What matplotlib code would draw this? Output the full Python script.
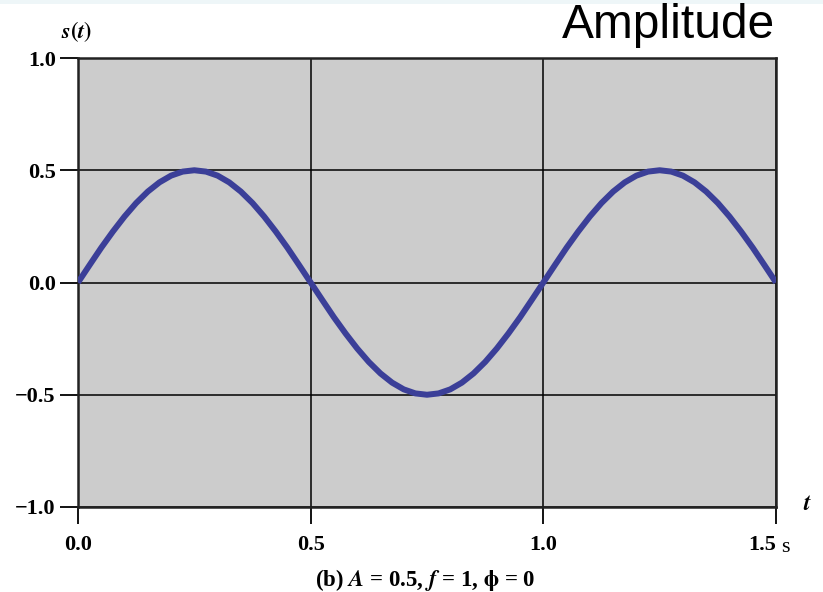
import matplotlib.pyplot as plt
from matplotlib.patches import Rectangle

# time samples (s) and signal values s(t)
t_values = [0.000, 0.025, 0.050, 0.075, 0.100, 0.125, 0.150, 0.175, 0.200, 0.225,
            0.250, 0.275, 0.300, 0.325, 0.350, 0.375, 0.400, 0.425, 0.450, 0.475,
            0.500, 0.525, 0.550, 0.575, 0.600, 0.625, 0.650, 0.675, 0.700, 0.725,
            0.750, 0.775, 0.800, 0.825, 0.850, 0.875, 0.900, 0.925, 0.950, 0.975,
            1.000, 1.025, 1.050, 1.075, 1.100, 1.125, 1.150, 1.175, 1.200, 1.225,
            1.250, 1.275, 1.300, 1.325, 1.350, 1.375, 1.400, 1.425, 1.450, 1.475,
            1.500]
s_values = [0.000, 0.078, 0.155, 0.227, 0.294, 0.354, 0.405, 0.446, 0.476, 0.494,
            0.500, 0.494, 0.476, 0.446, 0.405, 0.354, 0.294, 0.227, 0.155, 0.078,
            0.000, -0.078, -0.155, -0.227, -0.294, -0.354, -0.405, -0.446, -0.476, -0.494,
            -0.500, -0.494, -0.476, -0.446, -0.405, -0.354, -0.294, -0.227, -0.155, -0.078,
            0.000, 0.078, 0.155, 0.227, 0.294, 0.354, 0.405, 0.446, 0.476, 0.494,
            0.500, 0.494, 0.476, 0.446, 0.405, 0.354, 0.294, 0.227, 0.155, 0.078,
            0.000]
x_ticks = [0.0, 0.5, 1.0, 1.5]
x_tick_labels = ["0.0", "0.5", "1.0", "1.5"]
y_ticks = [-1.0, -0.5, 0.0, 0.5, 1.0]
y_tick_labels = ["\u22121.0", "\u22120.5", "0.0", "0.5", "1.0"]

serif = "Liberation Serif"

fig = plt.figure(figsize=(8.23, 5.92), dpi=100)
fig.patches.append(Rectangle((0, 0.994), 1, 0.006, transform=fig.transFigure,
                             facecolor="#eef6f8", edgecolor="none"))
ax = fig.add_axes([78 / 823, 1 - 507 / 592, (776 - 78) / 823, (507 - 58) / 592])
ax.set_facecolor("#cccccc")

ax.plot(t_values, s_values, color="#3b3f98", linewidth=4.3,
        solid_capstyle="butt", zorder=3)

ax.set_xlim(0, 1.5)
ax.set_ylim(-1.0, 1.0)
ax.set_xticks(x_ticks)
ax.set_xticklabels(x_tick_labels)
ax.set_yticks(y_ticks)
ax.set_yticklabels(y_tick_labels)
ax.grid(True, color="black", linewidth=1.1, zorder=1)
ax.set_axisbelow(True)
ax.tick_params(axis="x", direction="out", length=12, width=1.3, color="black", pad=8)
ax.tick_params(axis="y", direction="out", length=13, width=1.3, color="black", pad=3)
for lab in ax.get_xticklabels() + ax.get_yticklabels():
    lab.set_fontfamily(serif)
    lab.set_fontweight("bold")
    lab.set_fontsize(16)
ax.get_xticklabels()[-1].set_horizontalalignment("right")
for sp in ax.spines.values():
    sp.set_linewidth(1.8)
    sp.set_color("#222222")

# axis annotations
fig.text(77 / 823, 1 - 32 / 592, r"$\mathbfit{s}\mathbf{(}\mathbfit{t}\mathbf{)}$",
         fontsize=16, ha="center", va="center", math_fontfamily="stix")
fig.text(807 / 823, 1 - 503 / 592, r"$\mathbfit{t}$", fontsize=17, ha="center",
         va="center", math_fontfamily="stix")
fig.text(781 / 823, 1 - 552 / 592, "s", fontsize=16, ha="left", va="baseline",
         fontfamily=serif)
fig.text(425 / 823, 1 - 580 / 592,
         r"(b) $\mathbfit{A}$ = 0.5, $\mathbfit{f}$ = 1, $\mathbf{\phi}$ = 0",
         fontsize=16.5, ha="center", va="center", fontfamily=serif, fontweight="bold",
         math_fontfamily="stix")
fig.text(775 / 823, 1 - 26 / 592, "Amplitude", fontsize=34.5, ha="right", va="center",
         fontfamily="Liberation Sans")

plt.savefig("out.png", dpi=100)
